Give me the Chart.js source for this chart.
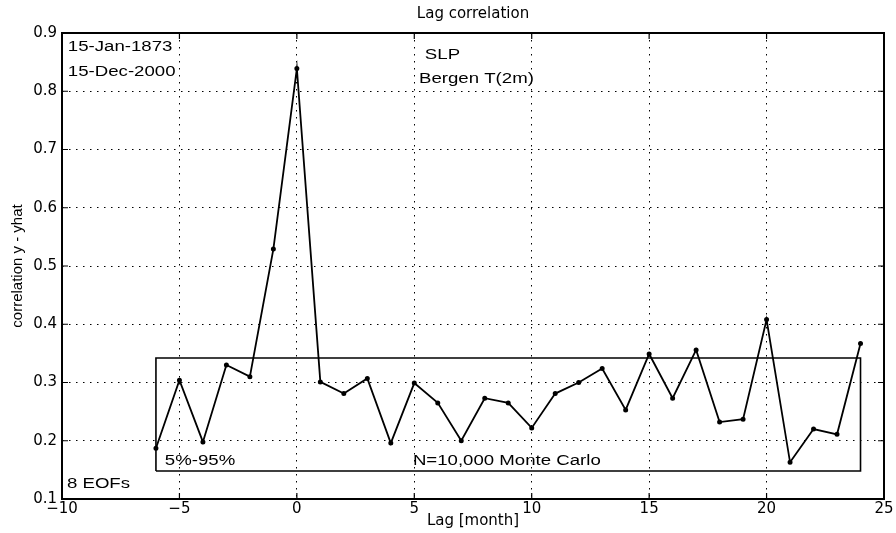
<!DOCTYPE html>
<html><head><meta charset="utf-8">
<script src="https://cdn.jsdelivr.net/npm/chart.js@4.4.0/dist/chart.umd.min.js"></script>
<style>html,body{margin:0;padding:0;background:#fff;}</style>
</head><body>
<canvas id="c" width="896" height="533" style="display:block"></canvas>
<script>
// ---- data ----
const lags = [-6,-5,-4,-3,-2,-1,0,1,2,3,4,5,6,7,8,9,10,11,12,13,14,15,16,17,18,19,20,21,22,23,24];
const correlation = [0.187,0.304,0.198,0.330,0.310,0.529,0.839,0.301,0.281,0.307,0.196,0.299,0.265,0.200,0.273,0.265,0.222,0.281,0.300,0.324,0.253,0.349,0.273,0.356,0.232,0.237,0.408,0.163,0.220,0.211,0.367];
const bandLags = [-6, 24];          // extent of the Monte Carlo band
const bandLimits = [0.148, 0.342];  // 5% and 95% levels
const xTickLabels = ['\u221210','\u22125','0','5','10','15','20','25'];
const yTickLabels = ['0.1','0.2','0.3','0.4','0.5','0.6','0.7','0.8','0.9'];
const noteTexts = ['15-Jan-1873','15-Dec-2000','SLP','Bergen T(2m)','5%-95%','N=10,000 Monte Carlo','8 EOFs'];
const noteX = [-9.75,-9.75,5.45,5.2,-5.62,4.94,-9.79];
const noteY = [0.8765,0.8320,0.862,0.820,0.165,0.165,0.126];

// ---- build datasets ----
const lineData = lags.map((l,i)=>({x:l,y:correlation[i]}));
const bandData = [
  {x:bandLags[0],y:bandLimits[0]},{x:bandLags[0],y:bandLimits[1]},
  {x:bandLags[1],y:bandLimits[1]},{x:bandLags[1],y:bandLimits[0]},
  {x:bandLags[0],y:bandLimits[0]}];

const framePlugin = {
  id:'frame',
  afterDraw(chart){
    const {ctx, chartArea:a, scales} = chart;
    ctx.save();
    ctx.strokeStyle='#000';
    ctx.lineWidth=2;
    ctx.strokeRect(a.left,a.top,a.right-a.left,a.bottom-a.top);
    ctx.lineWidth=1.2;
    const tl=6;
    ctx.beginPath();
    scales.x.ticks.forEach(t=>{
      const px=scales.x.getPixelForValue(t.value);
      ctx.moveTo(px,a.bottom); ctx.lineTo(px,a.bottom-tl);
      ctx.moveTo(px,a.top); ctx.lineTo(px,a.top+tl);
    });
    scales.y.ticks.forEach(t=>{
      const py=scales.y.getPixelForValue(t.value);
      ctx.moveTo(a.left,py); ctx.lineTo(a.left+tl,py);
      ctx.moveTo(a.right,py); ctx.lineTo(a.right-tl,py);
    });
    ctx.stroke();
    // annotations
    ctx.fillStyle='#000';
    ctx.font='14px "Liberation Sans", Arial, sans-serif';
    ctx.textBaseline='middle';
    ctx.textAlign='left';
    noteTexts.forEach((s,i)=>{
      const px=scales.x.getPixelForValue(noteX[i]);
      const py=scales.y.getPixelForValue(noteY[i]);
      ctx.save();
      ctx.translate(px,py);
      ctx.scale(1.33,1);
      ctx.fillText(s,0,0);
      ctx.restore();
    });
    ctx.restore();
  }
};

const tickFont = {family:'"DejaVu Sans", sans-serif', size:15};

new Chart(document.getElementById('c'), {
  type:'scatter',
  data:{datasets:[
    {data:lineData, showLine:true, borderColor:'#000', backgroundColor:'#000', borderWidth:1.8, pointRadius:1.6, pointHoverRadius:1.6},
    {data:bandData, showLine:true, borderColor:'#000', borderWidth:1.6, pointRadius:0, fill:false}
  ]},
  options:{
    responsive:false, animation:false, devicePixelRatio:1,
    layout:{padding:{left:0,right:12,top:0,bottom:0}},
    plugins:{
      legend:{display:false}, tooltip:{enabled:false},
      title:{display:true, text:'Lag correlation', fullSize:false, color:'#000',
        font:{family:'"DejaVu Sans", sans-serif', size:15, weight:'normal'},
        padding:{top:5,bottom:10}}
    },
    scales:{
      x:{type:'linear', min:-10, max:25,
        ticks:{stepSize:5, color:'#000', font:tickFont, padding:1, maxRotation:0,
          callback:(v,i)=>xTickLabels[i]},
        grid:{color:'#000', lineWidth:1, drawTicks:false},
        border:{display:false, dash:[1.5,5.5]},
        title:{display:true, text:'Lag [month]', color:'#000', font:tickFont, padding:{top:0,bottom:3}},
        afterFit:(s)=>{s.height=34;}
      },
      y:{type:'linear', min:0.1, max:0.9,
        ticks:{stepSize:0.1, color:'#000', font:tickFont, padding:5,
          callback:(v,i)=>yTickLabels[i]},
        grid:{color:'#000', lineWidth:1, drawTicks:false},
        border:{display:false, dash:[1.5,5.5]},
        title:{display:true, text:'correlation y - yhat', color:'#000',
          font:{family:'"Liberation Sans Narrow", "Liberation Sans", sans-serif', size:15}, padding:{top:9,bottom:0}},
        afterFit:(s)=>{s.width=62;}
      }
    }
  },
  plugins:[framePlugin]
});
</script>
</body></html>
